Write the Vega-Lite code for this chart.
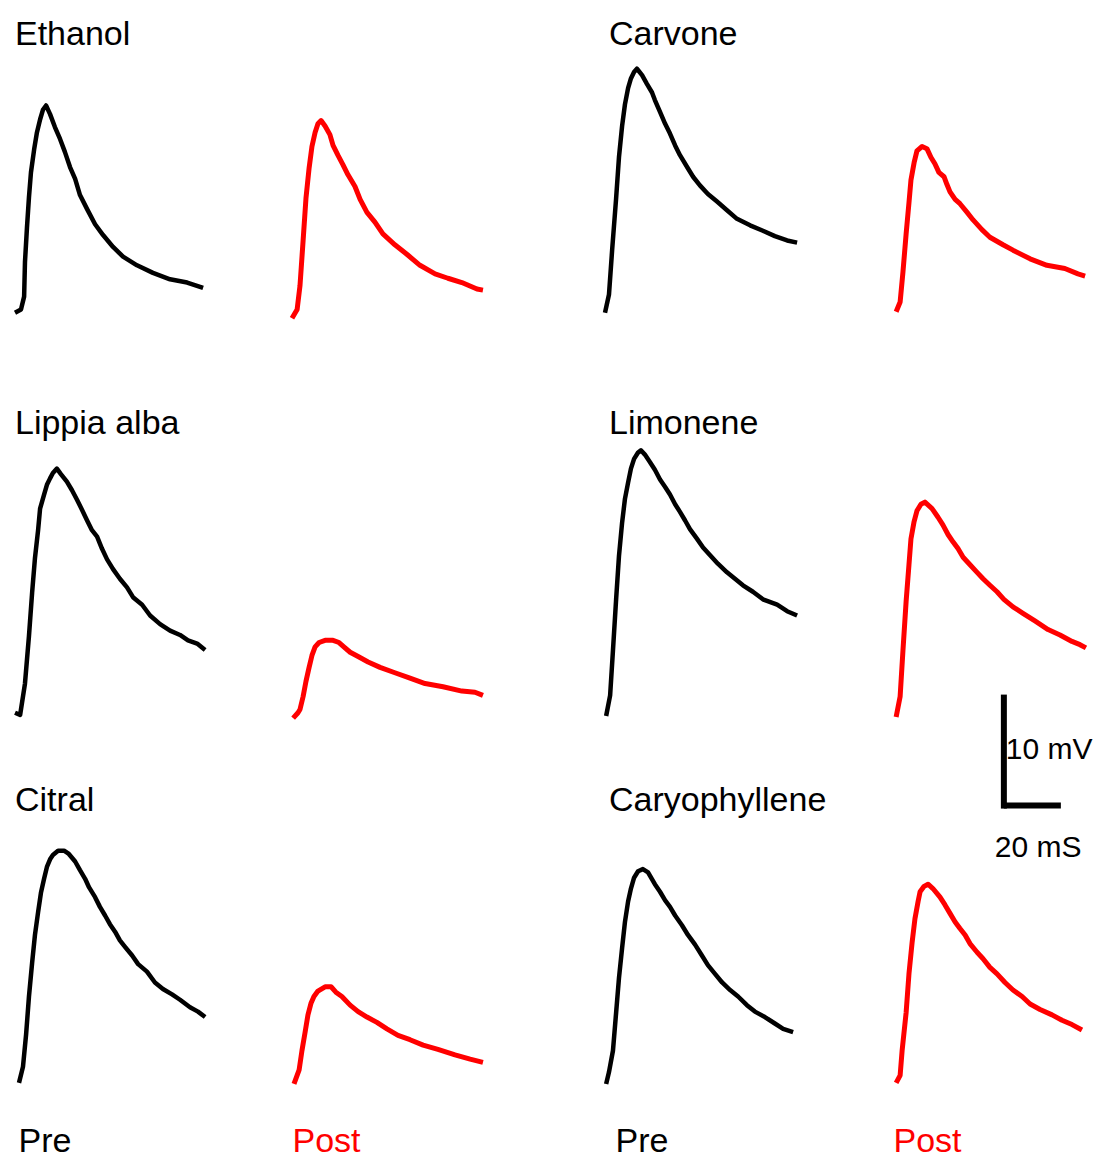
{
  "$schema": "https://vega.github.io/schema/vega-lite/v6.json",
  "background": "white",
  "padding": {"left": 12, "top": 18, "right": 0, "bottom": 0},
  "config": {
    "view": {"stroke": null},
    "font": "Liberation Sans, Arial, sans-serif",
    "title": {"font": "Liberation Sans, Arial, sans-serif", "fontSize": 34, "fontWeight": "normal", "anchor": "start", "frame": "group", "color": "#000000", "baseline": "alphabetic", "offset": 4},
    "axis": {"domain": false, "ticks": false, "labels": false, "grid": false, "titleFont": "Liberation Sans, Arial, sans-serif", "titleFontSize": 34, "titleFontWeight": "normal", "titleAlign": "left", "titleBaseline": "alphabetic", "titleAngle": 0, "titleY": 49},
    "line": {"strokeWidth": 4.5, "strokeJoin": "round", "interpolate": "linear"}
  },
  "datasets": {
    "traces": [
      {"compound":"Ethanol","phase":"Pre","t":0.0,"v":0.2},{"compound":"Ethanol","phase":"Pre","t":2.1,"v":0.5},{"compound":"Ethanol","phase":"Pre","t":3.2,"v":1.7},{"compound":"Ethanol","phase":"Pre","t":3.5,"v":4.9},{"compound":"Ethanol","phase":"Pre","t":4.2,"v":8.1},{"compound":"Ethanol","phase":"Pre","t":4.9,"v":10.9},{"compound":"Ethanol","phase":"Pre","t":5.6,"v":13.2},{"compound":"Ethanol","phase":"Pre","t":6.7,"v":15.3},{"compound":"Ethanol","phase":"Pre","t":7.7,"v":16.9},{"compound":"Ethanol","phase":"Pre","t":8.8,"v":18.1},{"compound":"Ethanol","phase":"Pre","t":9.8,"v":19.0},{"compound":"Ethanol","phase":"Pre","t":10.9,"v":19.4},{"compound":"Ethanol","phase":"Pre","t":12.3,"v":18.6},{"compound":"Ethanol","phase":"Pre","t":14.0,"v":17.4},{"compound":"Ethanol","phase":"Pre","t":15.8,"v":16.3},{"compound":"Ethanol","phase":"Pre","t":17.5,"v":15.1},{"compound":"Ethanol","phase":"Pre","t":19.3,"v":13.7},{"compound":"Ethanol","phase":"Pre","t":21.1,"v":12.6},{"compound":"Ethanol","phase":"Pre","t":22.8,"v":11.1},{"compound":"Ethanol","phase":"Pre","t":25.3,"v":9.8},{"compound":"Ethanol","phase":"Pre","t":28.1,"v":8.4},{"compound":"Ethanol","phase":"Pre","t":30.9,"v":7.4},{"compound":"Ethanol","phase":"Pre","t":34.4,"v":6.3},{"compound":"Ethanol","phase":"Pre","t":37.9,"v":5.4},{"compound":"Ethanol","phase":"Pre","t":42.8,"v":4.6},{"compound":"Ethanol","phase":"Pre","t":48.4,"v":3.9},{"compound":"Ethanol","phase":"Pre","t":54.4,"v":3.3},{"compound":"Ethanol","phase":"Pre","t":60.4,"v":3.0},{"compound":"Ethanol","phase":"Pre","t":66.0,"v":2.5},
      {"compound":"Ethanol","phase":"Post","t":0.0,"v":-0.3},{"compound":"Ethanol","phase":"Post","t":1.8,"v":0.5},{"compound":"Ethanol","phase":"Post","t":2.8,"v":2.7},{"compound":"Ethanol","phase":"Post","t":3.9,"v":6.9},{"compound":"Ethanol","phase":"Post","t":4.9,"v":10.8},{"compound":"Ethanol","phase":"Post","t":6.0,"v":13.6},{"compound":"Ethanol","phase":"Post","t":7.0,"v":15.6},{"compound":"Ethanol","phase":"Post","t":8.1,"v":16.9},{"compound":"Ethanol","phase":"Post","t":9.1,"v":17.7},{"compound":"Ethanol","phase":"Post","t":10.2,"v":18.0},{"compound":"Ethanol","phase":"Post","t":11.6,"v":17.5},{"compound":"Ethanol","phase":"Post","t":13.3,"v":16.7},{"compound":"Ethanol","phase":"Post","t":14.4,"v":15.7},{"compound":"Ethanol","phase":"Post","t":16.1,"v":14.8},{"compound":"Ethanol","phase":"Post","t":17.9,"v":13.9},{"compound":"Ethanol","phase":"Post","t":19.6,"v":13.0},{"compound":"Ethanol","phase":"Post","t":22.1,"v":11.9},{"compound":"Ethanol","phase":"Post","t":23.9,"v":10.7},{"compound":"Ethanol","phase":"Post","t":26.3,"v":9.5},{"compound":"Ethanol","phase":"Post","t":29.1,"v":8.6},{"compound":"Ethanol","phase":"Post","t":31.9,"v":7.5},{"compound":"Ethanol","phase":"Post","t":36.1,"v":6.5},{"compound":"Ethanol","phase":"Post","t":40.4,"v":5.6},{"compound":"Ethanol","phase":"Post","t":44.9,"v":4.6},{"compound":"Ethanol","phase":"Post","t":50.2,"v":3.8},{"compound":"Ethanol","phase":"Post","t":54.7,"v":3.4},{"compound":"Ethanol","phase":"Post","t":59.6,"v":3.0},{"compound":"Ethanol","phase":"Post","t":64.9,"v":2.4},{"compound":"Ethanol","phase":"Post","t":67.0,"v":2.3},
      {"compound":"Carvone","phase":"Pre","t":0.0,"v":0.2},{"compound":"Carvone","phase":"Pre","t":1.4,"v":1.9},{"compound":"Carvone","phase":"Pre","t":2.5,"v":6.0},{"compound":"Carvone","phase":"Pre","t":3.9,"v":10.8},{"compound":"Carvone","phase":"Pre","t":4.9,"v":14.6},{"compound":"Carvone","phase":"Pre","t":6.0,"v":17.5},{"compound":"Carvone","phase":"Pre","t":7.0,"v":19.5},{"compound":"Carvone","phase":"Pre","t":8.1,"v":21.0},{"compound":"Carvone","phase":"Pre","t":9.1,"v":21.9},{"compound":"Carvone","phase":"Pre","t":10.2,"v":22.5},{"compound":"Carvone","phase":"Pre","t":11.2,"v":22.8},{"compound":"Carvone","phase":"Pre","t":13.0,"v":22.2},{"compound":"Carvone","phase":"Pre","t":14.7,"v":21.4},{"compound":"Carvone","phase":"Pre","t":16.5,"v":20.6},{"compound":"Carvone","phase":"Pre","t":17.5,"v":19.9},{"compound":"Carvone","phase":"Pre","t":19.3,"v":18.8},{"compound":"Carvone","phase":"Pre","t":21.1,"v":17.7},{"compound":"Carvone","phase":"Pre","t":22.8,"v":16.8},{"compound":"Carvone","phase":"Pre","t":24.6,"v":15.7},{"compound":"Carvone","phase":"Pre","t":26.3,"v":14.8},{"compound":"Carvone","phase":"Pre","t":28.8,"v":13.7},{"compound":"Carvone","phase":"Pre","t":30.9,"v":12.8},{"compound":"Carvone","phase":"Pre","t":33.3,"v":12.0},{"compound":"Carvone","phase":"Pre","t":36.1,"v":11.2},{"compound":"Carvone","phase":"Pre","t":39.3,"v":10.5},{"compound":"Carvone","phase":"Pre","t":42.8,"v":9.7},{"compound":"Carvone","phase":"Pre","t":46.3,"v":8.9},{"compound":"Carvone","phase":"Pre","t":50.9,"v":8.3},{"compound":"Carvone","phase":"Pre","t":55.4,"v":7.8},{"compound":"Carvone","phase":"Pre","t":59.6,"v":7.3},{"compound":"Carvone","phase":"Pre","t":63.9,"v":6.9},{"compound":"Carvone","phase":"Pre","t":67.4,"v":6.7},
      {"compound":"Carvone","phase":"Post","t":0.4,"v":0.3},{"compound":"Carvone","phase":"Post","t":1.8,"v":1.2},{"compound":"Carvone","phase":"Post","t":2.8,"v":4.0},{"compound":"Carvone","phase":"Post","t":3.9,"v":7.5},{"compound":"Carvone","phase":"Post","t":4.9,"v":10.4},{"compound":"Carvone","phase":"Post","t":5.6,"v":12.5},{"compound":"Carvone","phase":"Post","t":6.7,"v":14.1},{"compound":"Carvone","phase":"Post","t":7.7,"v":15.2},{"compound":"Carvone","phase":"Post","t":9.5,"v":15.6},{"compound":"Carvone","phase":"Post","t":11.2,"v":15.4},{"compound":"Carvone","phase":"Post","t":12.6,"v":14.6},{"compound":"Carvone","phase":"Post","t":14.0,"v":14.0},{"compound":"Carvone","phase":"Post","t":15.4,"v":13.2},{"compound":"Carvone","phase":"Post","t":17.2,"v":12.8},{"compound":"Carvone","phase":"Post","t":18.2,"v":12.1},{"compound":"Carvone","phase":"Post","t":19.3,"v":11.4},{"compound":"Carvone","phase":"Post","t":21.1,"v":10.7},{"compound":"Carvone","phase":"Post","t":22.8,"v":10.3},{"compound":"Carvone","phase":"Post","t":25.3,"v":9.5},{"compound":"Carvone","phase":"Post","t":27.4,"v":8.8},{"compound":"Carvone","phase":"Post","t":30.5,"v":7.9},{"compound":"Carvone","phase":"Post","t":33.3,"v":7.2},{"compound":"Carvone","phase":"Post","t":37.9,"v":6.5},{"compound":"Carvone","phase":"Post","t":41.4,"v":6.0},{"compound":"Carvone","phase":"Post","t":47.4,"v":5.2},{"compound":"Carvone","phase":"Post","t":53.3,"v":4.6},{"compound":"Carvone","phase":"Post","t":59.6,"v":4.3},{"compound":"Carvone","phase":"Post","t":64.2,"v":3.8},{"compound":"Carvone","phase":"Post","t":66.7,"v":3.6},
      {"compound":"Lippia alba","phase":"Pre","t":0.0,"v":0.4},{"compound":"Lippia alba","phase":"Pre","t":1.8,"v":0.2},{"compound":"Lippia alba","phase":"Pre","t":3.5,"v":3.1},{"compound":"Lippia alba","phase":"Pre","t":4.9,"v":7.5},{"compound":"Lippia alba","phase":"Pre","t":6.0,"v":11.5},{"compound":"Lippia alba","phase":"Pre","t":7.0,"v":14.7},{"compound":"Lippia alba","phase":"Pre","t":8.1,"v":17.3},{"compound":"Lippia alba","phase":"Pre","t":8.8,"v":19.3},{"compound":"Lippia alba","phase":"Pre","t":10.2,"v":20.6},{"compound":"Lippia alba","phase":"Pre","t":11.2,"v":21.5},{"compound":"Lippia alba","phase":"Pre","t":12.3,"v":22.1},{"compound":"Lippia alba","phase":"Pre","t":13.3,"v":22.6},{"compound":"Lippia alba","phase":"Pre","t":14.7,"v":23.0},{"compound":"Lippia alba","phase":"Pre","t":16.1,"v":22.5},{"compound":"Lippia alba","phase":"Pre","t":18.2,"v":21.8},{"compound":"Lippia alba","phase":"Pre","t":20.0,"v":21.0},{"compound":"Lippia alba","phase":"Pre","t":21.8,"v":20.1},{"compound":"Lippia alba","phase":"Pre","t":23.5,"v":19.2},{"compound":"Lippia alba","phase":"Pre","t":25.3,"v":18.2},{"compound":"Lippia alba","phase":"Pre","t":27.0,"v":17.3},{"compound":"Lippia alba","phase":"Pre","t":28.8,"v":16.7},{"compound":"Lippia alba","phase":"Pre","t":30.5,"v":15.6},{"compound":"Lippia alba","phase":"Pre","t":32.3,"v":14.6},{"compound":"Lippia alba","phase":"Pre","t":34.4,"v":13.7},{"compound":"Lippia alba","phase":"Pre","t":36.8,"v":12.8},{"compound":"Lippia alba","phase":"Pre","t":39.3,"v":12.0},{"compound":"Lippia alba","phase":"Pre","t":41.4,"v":11.1},{"compound":"Lippia alba","phase":"Pre","t":44.6,"v":10.4},{"compound":"Lippia alba","phase":"Pre","t":47.4,"v":9.4},{"compound":"Lippia alba","phase":"Pre","t":50.9,"v":8.6},{"compound":"Lippia alba","phase":"Pre","t":54.4,"v":8.0},{"compound":"Lippia alba","phase":"Pre","t":57.9,"v":7.6},{"compound":"Lippia alba","phase":"Pre","t":60.7,"v":7.1},{"compound":"Lippia alba","phase":"Pre","t":63.9,"v":6.8},{"compound":"Lippia alba","phase":"Pre","t":66.7,"v":6.2},
      {"compound":"Lippia alba","phase":"Post","t":0.4,"v":-0.1},{"compound":"Lippia alba","phase":"Post","t":2.1,"v":0.4},{"compound":"Lippia alba","phase":"Post","t":2.8,"v":0.7},{"compound":"Lippia alba","phase":"Post","t":3.9,"v":1.9},{"compound":"Lippia alba","phase":"Post","t":4.9,"v":3.3},{"compound":"Lippia alba","phase":"Post","t":6.0,"v":4.6},{"compound":"Lippia alba","phase":"Post","t":7.0,"v":5.7},{"compound":"Lippia alba","phase":"Post","t":8.1,"v":6.5},{"compound":"Lippia alba","phase":"Post","t":9.5,"v":6.9},{"compound":"Lippia alba","phase":"Post","t":11.6,"v":7.1},{"compound":"Lippia alba","phase":"Post","t":14.4,"v":7.1},{"compound":"Lippia alba","phase":"Post","t":16.5,"v":6.9},{"compound":"Lippia alba","phase":"Post","t":18.2,"v":6.5},{"compound":"Lippia alba","phase":"Post","t":20.4,"v":6.0},{"compound":"Lippia alba","phase":"Post","t":23.2,"v":5.6},{"compound":"Lippia alba","phase":"Post","t":26.7,"v":5.1},{"compound":"Lippia alba","phase":"Post","t":30.9,"v":4.6},{"compound":"Lippia alba","phase":"Post","t":36.1,"v":4.1},{"compound":"Lippia alba","phase":"Post","t":41.4,"v":3.6},{"compound":"Lippia alba","phase":"Post","t":46.7,"v":3.1},{"compound":"Lippia alba","phase":"Post","t":53.0,"v":2.8},{"compound":"Lippia alba","phase":"Post","t":59.6,"v":2.4},{"compound":"Lippia alba","phase":"Post","t":64.2,"v":2.3},{"compound":"Lippia alba","phase":"Post","t":67.0,"v":2.0},
      {"compound":"Limonene","phase":"Pre","t":0.4,"v":0.1},{"compound":"Limonene","phase":"Pre","t":1.8,"v":2.0},{"compound":"Limonene","phase":"Pre","t":2.8,"v":6.2},{"compound":"Limonene","phase":"Pre","t":3.9,"v":10.9},{"compound":"Limonene","phase":"Pre","t":4.9,"v":14.9},{"compound":"Limonene","phase":"Pre","t":6.0,"v":18.0},{"compound":"Limonene","phase":"Pre","t":7.0,"v":20.2},{"compound":"Limonene","phase":"Pre","t":8.1,"v":21.7},{"compound":"Limonene","phase":"Pre","t":9.1,"v":23.0},{"compound":"Limonene","phase":"Pre","t":10.2,"v":23.9},{"compound":"Limonene","phase":"Pre","t":11.6,"v":24.5},{"compound":"Limonene","phase":"Pre","t":12.6,"v":24.7},{"compound":"Limonene","phase":"Pre","t":14.0,"v":24.3},{"compound":"Limonene","phase":"Pre","t":15.8,"v":23.6},{"compound":"Limonene","phase":"Pre","t":17.5,"v":22.9},{"compound":"Limonene","phase":"Pre","t":19.3,"v":22.0},{"compound":"Limonene","phase":"Pre","t":21.1,"v":21.3},{"compound":"Limonene","phase":"Pre","t":22.8,"v":20.6},{"compound":"Limonene","phase":"Pre","t":24.6,"v":19.7},{"compound":"Limonene","phase":"Pre","t":26.3,"v":19.0},{"compound":"Limonene","phase":"Pre","t":28.1,"v":18.2},{"compound":"Limonene","phase":"Pre","t":29.8,"v":17.4},{"compound":"Limonene","phase":"Pre","t":32.3,"v":16.5},{"compound":"Limonene","phase":"Pre","t":34.4,"v":15.7},{"compound":"Limonene","phase":"Pre","t":36.8,"v":15.0},{"compound":"Limonene","phase":"Pre","t":39.6,"v":14.2},{"compound":"Limonene","phase":"Pre","t":42.8,"v":13.4},{"compound":"Limonene","phase":"Pre","t":45.6,"v":12.8},{"compound":"Limonene","phase":"Pre","t":48.4,"v":12.2},{"compound":"Limonene","phase":"Pre","t":51.9,"v":11.6},{"compound":"Limonene","phase":"Pre","t":55.4,"v":10.9},{"compound":"Limonene","phase":"Pre","t":60.4,"v":10.4},{"compound":"Limonene","phase":"Pre","t":63.9,"v":9.8},{"compound":"Limonene","phase":"Pre","t":67.4,"v":9.4},
      {"compound":"Limonene","phase":"Post","t":0.4,"v":0.0},{"compound":"Limonene","phase":"Post","t":1.8,"v":1.9},{"compound":"Limonene","phase":"Post","t":2.8,"v":6.2},{"compound":"Limonene","phase":"Post","t":3.9,"v":10.7},{"compound":"Limonene","phase":"Post","t":4.9,"v":14.1},{"compound":"Limonene","phase":"Post","t":5.6,"v":16.5},{"compound":"Limonene","phase":"Post","t":6.7,"v":18.1},{"compound":"Limonene","phase":"Post","t":7.7,"v":19.1},{"compound":"Limonene","phase":"Post","t":9.1,"v":19.7},{"compound":"Limonene","phase":"Post","t":10.5,"v":19.9},{"compound":"Limonene","phase":"Post","t":13.0,"v":19.3},{"compound":"Limonene","phase":"Post","t":15.1,"v":18.5},{"compound":"Limonene","phase":"Post","t":16.8,"v":17.8},{"compound":"Limonene","phase":"Post","t":18.6,"v":16.9},{"compound":"Limonene","phase":"Post","t":20.4,"v":16.2},{"compound":"Limonene","phase":"Post","t":22.1,"v":15.6},{"compound":"Limonene","phase":"Post","t":23.9,"v":14.8},{"compound":"Limonene","phase":"Post","t":26.0,"v":14.2},{"compound":"Limonene","phase":"Post","t":28.8,"v":13.4},{"compound":"Limonene","phase":"Post","t":30.9,"v":12.8},{"compound":"Limonene","phase":"Post","t":33.3,"v":12.2},{"compound":"Limonene","phase":"Post","t":35.8,"v":11.6},{"compound":"Limonene","phase":"Post","t":38.2,"v":10.9},{"compound":"Limonene","phase":"Post","t":41.4,"v":10.2},{"compound":"Limonene","phase":"Post","t":44.9,"v":9.6},{"compound":"Limonene","phase":"Post","t":49.1,"v":8.9},{"compound":"Limonene","phase":"Post","t":53.7,"v":8.1},{"compound":"Limonene","phase":"Post","t":57.9,"v":7.6},{"compound":"Limonene","phase":"Post","t":62.1,"v":7.0},{"compound":"Limonene","phase":"Post","t":64.9,"v":6.7},{"compound":"Limonene","phase":"Post","t":67.0,"v":6.4},
      {"compound":"Citral","phase":"Pre","t":1.4,"v":0.1},{"compound":"Citral","phase":"Pre","t":2.8,"v":1.6},{"compound":"Citral","phase":"Pre","t":3.9,"v":4.6},{"compound":"Citral","phase":"Pre","t":4.9,"v":8.1},{"compound":"Citral","phase":"Pre","t":6.0,"v":11.2},{"compound":"Citral","phase":"Pre","t":7.0,"v":13.8},{"compound":"Citral","phase":"Pre","t":8.1,"v":15.9},{"compound":"Citral","phase":"Pre","t":9.1,"v":17.7},{"compound":"Citral","phase":"Pre","t":10.2,"v":19.0},{"compound":"Citral","phase":"Pre","t":11.2,"v":20.1},{"compound":"Citral","phase":"Pre","t":12.3,"v":20.8},{"compound":"Citral","phase":"Pre","t":13.3,"v":21.2},{"compound":"Citral","phase":"Pre","t":15.1,"v":21.6},{"compound":"Citral","phase":"Pre","t":17.2,"v":21.6},{"compound":"Citral","phase":"Pre","t":18.9,"v":21.3},{"compound":"Citral","phase":"Pre","t":21.1,"v":20.6},{"compound":"Citral","phase":"Pre","t":22.8,"v":19.8},{"compound":"Citral","phase":"Pre","t":24.6,"v":19.0},{"compound":"Citral","phase":"Pre","t":26.0,"v":18.2},{"compound":"Citral","phase":"Pre","t":28.1,"v":17.3},{"compound":"Citral","phase":"Pre","t":29.8,"v":16.4},{"compound":"Citral","phase":"Pre","t":31.6,"v":15.6},{"compound":"Citral","phase":"Pre","t":33.3,"v":14.8},{"compound":"Citral","phase":"Pre","t":35.1,"v":14.1},{"compound":"Citral","phase":"Pre","t":36.8,"v":13.3},{"compound":"Citral","phase":"Pre","t":38.6,"v":12.7},{"compound":"Citral","phase":"Pre","t":41.1,"v":11.9},{"compound":"Citral","phase":"Pre","t":43.2,"v":11.1},{"compound":"Citral","phase":"Pre","t":46.3,"v":10.4},{"compound":"Citral","phase":"Pre","t":49.1,"v":9.4},{"compound":"Citral","phase":"Pre","t":51.9,"v":8.8},{"compound":"Citral","phase":"Pre","t":55.1,"v":8.3},{"compound":"Citral","phase":"Pre","t":57.9,"v":7.8},{"compound":"Citral","phase":"Pre","t":61.4,"v":7.1},{"compound":"Citral","phase":"Pre","t":64.2,"v":6.7},{"compound":"Citral","phase":"Pre","t":66.7,"v":6.2},
      {"compound":"Citral","phase":"Post","t":0.7,"v":0.0},{"compound":"Citral","phase":"Post","t":2.5,"v":1.3},{"compound":"Citral","phase":"Post","t":3.5,"v":3.1},{"compound":"Citral","phase":"Post","t":4.6,"v":4.8},{"compound":"Citral","phase":"Post","t":5.6,"v":6.4},{"compound":"Citral","phase":"Post","t":6.7,"v":7.5},{"compound":"Citral","phase":"Post","t":7.7,"v":8.1},{"compound":"Citral","phase":"Post","t":9.1,"v":8.6},{"compound":"Citral","phase":"Post","t":11.6,"v":9.0},{"compound":"Citral","phase":"Post","t":13.7,"v":9.0},{"compound":"Citral","phase":"Post","t":15.4,"v":8.5},{"compound":"Citral","phase":"Post","t":17.5,"v":8.1},{"compound":"Citral","phase":"Post","t":20.4,"v":7.3},{"compound":"Citral","phase":"Post","t":23.2,"v":6.7},{"compound":"Citral","phase":"Post","t":26.3,"v":6.2},{"compound":"Citral","phase":"Post","t":29.8,"v":5.7},{"compound":"Citral","phase":"Post","t":33.3,"v":5.1},{"compound":"Citral","phase":"Post","t":37.2,"v":4.5},{"compound":"Citral","phase":"Post","t":41.4,"v":4.1},{"compound":"Citral","phase":"Post","t":46.0,"v":3.6},{"compound":"Citral","phase":"Post","t":51.2,"v":3.2},{"compound":"Citral","phase":"Post","t":57.2,"v":2.7},{"compound":"Citral","phase":"Post","t":62.5,"v":2.3},{"compound":"Citral","phase":"Post","t":67.0,"v":2.0},
      {"compound":"Caryophyllene","phase":"Pre","t":0.4,"v":0.0},{"compound":"Caryophyllene","phase":"Pre","t":1.4,"v":1.1},{"compound":"Caryophyllene","phase":"Pre","t":2.8,"v":3.1},{"compound":"Caryophyllene","phase":"Pre","t":3.9,"v":6.6},{"compound":"Caryophyllene","phase":"Pre","t":4.9,"v":9.8},{"compound":"Caryophyllene","phase":"Pre","t":6.0,"v":12.6},{"compound":"Caryophyllene","phase":"Pre","t":7.0,"v":15.0},{"compound":"Caryophyllene","phase":"Pre","t":8.1,"v":16.9},{"compound":"Caryophyllene","phase":"Pre","t":9.1,"v":18.1},{"compound":"Caryophyllene","phase":"Pre","t":10.2,"v":19.1},{"compound":"Caryophyllene","phase":"Pre","t":11.6,"v":19.7},{"compound":"Caryophyllene","phase":"Pre","t":13.3,"v":19.9},{"compound":"Caryophyllene","phase":"Pre","t":15.1,"v":19.6},{"compound":"Caryophyllene","phase":"Pre","t":17.5,"v":18.5},{"compound":"Caryophyllene","phase":"Pre","t":19.3,"v":17.8},{"compound":"Caryophyllene","phase":"Pre","t":21.1,"v":17.0},{"compound":"Caryophyllene","phase":"Pre","t":22.8,"v":16.4},{"compound":"Caryophyllene","phase":"Pre","t":24.6,"v":15.6},{"compound":"Caryophyllene","phase":"Pre","t":27.0,"v":14.7},{"compound":"Caryophyllene","phase":"Pre","t":29.1,"v":13.8},{"compound":"Caryophyllene","phase":"Pre","t":31.6,"v":12.9},{"compound":"Caryophyllene","phase":"Pre","t":34.0,"v":11.9},{"compound":"Caryophyllene","phase":"Pre","t":36.1,"v":11.0},{"compound":"Caryophyllene","phase":"Pre","t":38.6,"v":10.2},{"compound":"Caryophyllene","phase":"Pre","t":41.1,"v":9.4},{"compound":"Caryophyllene","phase":"Pre","t":43.9,"v":8.7},{"compound":"Caryophyllene","phase":"Pre","t":46.7,"v":8.1},{"compound":"Caryophyllene","phase":"Pre","t":49.8,"v":7.3},{"compound":"Caryophyllene","phase":"Pre","t":52.6,"v":6.7},{"compound":"Caryophyllene","phase":"Pre","t":56.1,"v":6.2},{"compound":"Caryophyllene","phase":"Pre","t":59.6,"v":5.6},{"compound":"Caryophyllene","phase":"Pre","t":62.5,"v":5.1},{"compound":"Caryophyllene","phase":"Pre","t":66.0,"v":4.8},
      {"compound":"Caryophyllene","phase":"Post","t":0.4,"v":0.1},{"compound":"Caryophyllene","phase":"Post","t":1.8,"v":0.8},{"compound":"Caryophyllene","phase":"Post","t":2.5,"v":3.1},{"compound":"Caryophyllene","phase":"Post","t":3.9,"v":6.6},{"compound":"Caryophyllene","phase":"Post","t":4.9,"v":10.2},{"compound":"Caryophyllene","phase":"Post","t":6.0,"v":13.1},{"compound":"Caryophyllene","phase":"Post","t":7.0,"v":15.3},{"compound":"Caryophyllene","phase":"Post","t":8.1,"v":16.9},{"compound":"Caryophyllene","phase":"Post","t":8.8,"v":17.8},{"compound":"Caryophyllene","phase":"Post","t":10.2,"v":18.3},{"compound":"Caryophyllene","phase":"Post","t":11.6,"v":18.5},{"compound":"Caryophyllene","phase":"Post","t":13.3,"v":18.1},{"compound":"Caryophyllene","phase":"Post","t":15.8,"v":17.3},{"compound":"Caryophyllene","phase":"Post","t":17.5,"v":16.6},{"compound":"Caryophyllene","phase":"Post","t":19.3,"v":15.8},{"compound":"Caryophyllene","phase":"Post","t":21.1,"v":15.0},{"compound":"Caryophyllene","phase":"Post","t":22.8,"v":14.4},{"compound":"Caryophyllene","phase":"Post","t":24.6,"v":13.8},{"compound":"Caryophyllene","phase":"Post","t":26.3,"v":13.0},{"compound":"Caryophyllene","phase":"Post","t":28.8,"v":12.2},{"compound":"Caryophyllene","phase":"Post","t":30.9,"v":11.6},{"compound":"Caryophyllene","phase":"Post","t":33.3,"v":10.8},{"compound":"Caryophyllene","phase":"Post","t":35.8,"v":10.2},{"compound":"Caryophyllene","phase":"Post","t":38.6,"v":9.4},{"compound":"Caryophyllene","phase":"Post","t":41.4,"v":8.7},{"compound":"Caryophyllene","phase":"Post","t":44.6,"v":8.1},{"compound":"Caryophyllene","phase":"Post","t":47.4,"v":7.4},{"compound":"Caryophyllene","phase":"Post","t":50.9,"v":6.9},{"compound":"Caryophyllene","phase":"Post","t":55.1,"v":6.4},{"compound":"Caryophyllene","phase":"Post","t":58.6,"v":5.9},{"compound":"Caryophyllene","phase":"Post","t":62.1,"v":5.5},{"compound":"Caryophyllene","phase":"Post","t":65.6,"v":5.0}
    ],
    "scalebar": [
      {"t": 38.2, "t_end": 58.2, "v": -8.2, "v_end": 1.8, "amplitude": "10 mV", "duration": "20 mS"}
    ]
  },
  "bounds": "flush",
  "spacing": {"row": 0, "column": 0},
  "columns": 4,
  "concat": [
    {"width": 277, "height": 389, "title": {"text": "Ethanol"},
     "data": {"name": "traces"}, "transform": [{"filter": "datum.compound === 'Ethanol' && datum.phase === 'Pre'"}],
     "mark": {"type": "line"},
     "encoding": {"x": {"field": "t", "type": "quantitative", "scale": {"domain": [0, 97.19], "nice": false, "zero": false}, "axis": null},
                  "y": {"field": "v", "type": "quantitative", "scale": {"domain": [-12.04, 23.98], "nice": false, "zero": false}, "axis": null},
                  "color": {"field": "phase", "type": "nominal", "scale": {"domain": ["Pre", "Post"], "range": ["#000000", "#ff0000"]}, "legend": null}}},
    {"width": 313, "height": 389,
     "data": {"name": "traces"}, "transform": [{"filter": "datum.compound === 'Ethanol' && datum.phase === 'Post'"}],
     "mark": {"type": "line", "strokeWidth": 5},
     "encoding": {"x": {"field": "t", "type": "quantitative", "scale": {"domain": [0, 109.82], "nice": false, "zero": false}, "axis": null},
                  "y": {"field": "v", "type": "quantitative", "scale": {"domain": [-12.04, 23.98], "nice": false, "zero": false}, "axis": null},
                  "color": {"field": "phase", "type": "nominal", "scale": {"domain": ["Pre", "Post"], "range": ["#000000", "#ff0000"]}, "legend": null}}},
    {"width": 290, "height": 389, "title": {"text": "Carvone", "dx": 4},
     "data": {"name": "traces"}, "transform": [{"filter": "datum.compound === 'Carvone' && datum.phase === 'Pre'"}],
     "mark": {"type": "line"},
     "encoding": {"x": {"field": "t", "type": "quantitative", "scale": {"domain": [0, 101.75], "nice": false, "zero": false}, "axis": null},
                  "y": {"field": "v", "type": "quantitative", "scale": {"domain": [-12.04, 23.98], "nice": false, "zero": false}, "axis": null},
                  "color": {"field": "phase", "type": "nominal", "scale": {"domain": ["Pre", "Post"], "range": ["#000000", "#ff0000"]}, "legend": null}}},
    {"width": 204, "height": 389,
     "data": {"name": "traces"}, "transform": [{"filter": "datum.compound === 'Carvone' && datum.phase === 'Post'"}],
     "mark": {"type": "line", "strokeWidth": 5},
     "encoding": {"x": {"field": "t", "type": "quantitative", "scale": {"domain": [0, 71.58], "nice": false, "zero": false}, "axis": null},
                  "y": {"field": "v", "type": "quantitative", "scale": {"domain": [-12.04, 23.98], "nice": false, "zero": false}, "axis": null},
                  "color": {"field": "phase", "type": "nominal", "scale": {"domain": ["Pre", "Post"], "range": ["#000000", "#ff0000"]}, "legend": null}}},
    {"width": 277, "height": 377, "title": {"text": "Lippia alba"},
     "data": {"name": "traces"}, "transform": [{"filter": "datum.compound === 'Lippia alba' && datum.phase === 'Pre'"}],
     "mark": {"type": "line"},
     "encoding": {"x": {"field": "t", "type": "quantitative", "scale": {"domain": [0, 97.19], "nice": false, "zero": false}, "axis": null},
                  "y": {"field": "v", "type": "quantitative", "scale": {"domain": [-9.72, 25.19], "nice": false, "zero": false}, "axis": null},
                  "color": {"field": "phase", "type": "nominal", "scale": {"domain": ["Pre", "Post"], "range": ["#000000", "#ff0000"]}, "legend": null}}},
    {"width": 313, "height": 377,
     "data": {"name": "traces"}, "transform": [{"filter": "datum.compound === 'Lippia alba' && datum.phase === 'Post'"}],
     "mark": {"type": "line", "strokeWidth": 5},
     "encoding": {"x": {"field": "t", "type": "quantitative", "scale": {"domain": [0, 109.82], "nice": false, "zero": false}, "axis": null},
                  "y": {"field": "v", "type": "quantitative", "scale": {"domain": [-9.72, 25.19], "nice": false, "zero": false}, "axis": null},
                  "color": {"field": "phase", "type": "nominal", "scale": {"domain": ["Pre", "Post"], "range": ["#000000", "#ff0000"]}, "legend": null}}},
    {"width": 290, "height": 377, "title": {"text": "Limonene", "dx": 4},
     "data": {"name": "traces"}, "transform": [{"filter": "datum.compound === 'Limonene' && datum.phase === 'Pre'"}],
     "mark": {"type": "line"},
     "encoding": {"x": {"field": "t", "type": "quantitative", "scale": {"domain": [0, 101.75], "nice": false, "zero": false}, "axis": null},
                  "y": {"field": "v", "type": "quantitative", "scale": {"domain": [-9.72, 25.19], "nice": false, "zero": false}, "axis": null},
                  "color": {"field": "phase", "type": "nominal", "scale": {"domain": ["Pre", "Post"], "range": ["#000000", "#ff0000"]}, "legend": null}}},
    {"width": 204, "height": 377,
     "encoding": {"x": {"field": "t", "type": "quantitative", "scale": {"domain": [0, 71.58], "nice": false, "zero": false}, "axis": null},
                  "y": {"field": "v", "type": "quantitative", "scale": {"domain": [-9.72, 25.19], "nice": false, "zero": false}, "axis": null}},
     "layer": [
       {"data": {"name": "traces"}, "transform": [{"filter": "datum.compound === 'Limonene' && datum.phase === 'Post'"}],
        "mark": {"type": "line", "strokeWidth": 5},
        "encoding": {"color": {"field": "phase", "type": "nominal", "scale": {"domain": ["Pre", "Post"], "range": ["#000000", "#ff0000"]}, "legend": null}}},
       {"data": {"name": "scalebar"},
        "mark": {"type": "rule", "color": "#000000", "strokeWidth": 6, "strokeCap": "square"},
        "encoding": {"y2": {"field": "v_end"}}},
       {"data": {"name": "scalebar"},
        "mark": {"type": "rule", "color": "#000000", "strokeWidth": 6},
        "encoding": {"x2": {"field": "t_end"}}},
       {"data": {"name": "scalebar"},
        "mark": {"type": "text", "align": "left", "baseline": "alphabetic", "fontSize": 30, "dx": 2, "dy": 61, "color": "#000000"},
        "encoding": {"y": {"field": "v_end", "type": "quantitative"}, "text": {"field": "amplitude"}}},
       {"data": {"name": "scalebar"},
        "mark": {"type": "text", "align": "left", "baseline": "alphabetic", "fontSize": 30, "dx": -9, "dy": 51, "color": "#000000"},
        "encoding": {"text": {"field": "duration"}}}
     ]},
    {"width": 277, "height": 280, "title": {"text": "Citral"},
     "data": {"name": "traces"}, "transform": [{"filter": "datum.compound === 'Citral' && datum.phase === 'Pre'"}],
     "mark": {"type": "line"},
     "encoding": {"x": {"field": "t", "type": "quantitative", "scale": {"domain": [0, 97.19], "nice": false, "zero": false}, "axis": {"title": "Pre", "titleColor": "#000000", "titleX": 3}},
                  "y": {"field": "v", "type": "quantitative", "scale": {"domain": [-1.67, 24.26], "nice": false, "zero": false}, "axis": null},
                  "color": {"field": "phase", "type": "nominal", "scale": {"domain": ["Pre", "Post"], "range": ["#000000", "#ff0000"]}, "legend": null}}},
    {"width": 313, "height": 280,
     "data": {"name": "traces"}, "transform": [{"filter": "datum.compound === 'Citral' && datum.phase === 'Post'"}],
     "mark": {"type": "line", "strokeWidth": 5},
     "encoding": {"x": {"field": "t", "type": "quantitative", "scale": {"domain": [0, 109.82], "nice": false, "zero": false}, "axis": {"title": "Post", "titleColor": "#ff0000", "titleX": 0}},
                  "y": {"field": "v", "type": "quantitative", "scale": {"domain": [-1.67, 24.26], "nice": false, "zero": false}, "axis": null},
                  "color": {"field": "phase", "type": "nominal", "scale": {"domain": ["Pre", "Post"], "range": ["#000000", "#ff0000"]}, "legend": null}}},
    {"width": 290, "height": 280, "title": {"text": "Caryophyllene", "dx": 4},
     "data": {"name": "traces"}, "transform": [{"filter": "datum.compound === 'Caryophyllene' && datum.phase === 'Pre'"}],
     "mark": {"type": "line"},
     "encoding": {"x": {"field": "t", "type": "quantitative", "scale": {"domain": [0, 101.75], "nice": false, "zero": false}, "axis": {"title": "Pre", "titleColor": "#000000", "titleX": 10}},
                  "y": {"field": "v", "type": "quantitative", "scale": {"domain": [-1.67, 24.26], "nice": false, "zero": false}, "axis": null},
                  "color": {"field": "phase", "type": "nominal", "scale": {"domain": ["Pre", "Post"], "range": ["#000000", "#ff0000"]}, "legend": null}}},
    {"width": 204, "height": 280,
     "data": {"name": "traces"}, "transform": [{"filter": "datum.compound === 'Caryophyllene' && datum.phase === 'Post'"}],
     "mark": {"type": "line", "strokeWidth": 5},
     "encoding": {"x": {"field": "t", "type": "quantitative", "scale": {"domain": [0, 71.58], "nice": false, "zero": false}, "axis": {"title": "Post", "titleColor": "#ff0000", "titleX": -2}},
                  "y": {"field": "v", "type": "quantitative", "scale": {"domain": [-1.67, 24.26], "nice": false, "zero": false}, "axis": null},
                  "color": {"field": "phase", "type": "nominal", "scale": {"domain": ["Pre", "Post"], "range": ["#000000", "#ff0000"]}, "legend": null}}}
  ]
}
